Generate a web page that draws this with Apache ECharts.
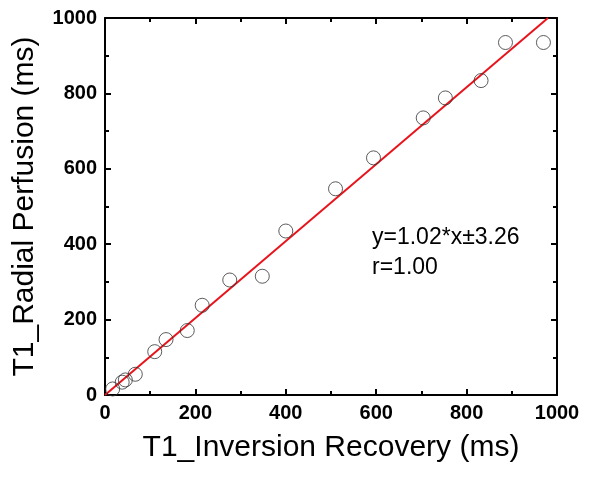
<!DOCTYPE html>
<html><head><meta charset="utf-8">
<script src="https://cdn.jsdelivr.net/npm/echarts@6/dist/echarts.min.js"></script>
<style>html,body{margin:0;padding:0;background:#fff}#c{width:600px;height:477px}</style>
</head><body><div id="c"></div>
<script>
var xTicks = [0, 200, 400, 600, 800, 1000];
var yTicks = [0, 200, 400, 600, 800, 1000];
var irValues = [17, 38, 45, 67, 110, 135, 182, 215, 276, 348, 400, 510, 594, 704, 753, 832, 886, 970];
var rpValues = [16, 34, 40, 55, 115, 147, 171, 238, 305, 315, 435, 547, 629, 735, 788, 834, 935, 935];
var fitX = [0, 980];
var fitY = [0, 1000];
var fitText = ["y=1.02*x\u00b13.26", "r=1.00"];

var pts = irValues.map(function(v, i){ return [v, rpValues[i]]; });
var line = fitX.map(function(v, i){ return [v, fitY[i]]; });
var FONT = "Liberation Sans, Arial, sans-serif";
function ax(pos, show, name){
  return {
    type: 'value', min: 0, max: 1000, interval: 200, position: pos,
    name: show ? name : '', nameLocation: 'middle',
    nameGap: (pos === 'bottom') ? 38 : 65,
    nameTextStyle: {fontFamily: FONT, fontSize: 30, color: '#000'},
    axisLine: {show: true, onZero: false, lineStyle: {color: '#000', width: 2}},
    axisTick: {show: true, inside: true, length: 6, lineStyle: {color: '#000', width: 2}},
    minorTick: {show: true, splitNumber: 2, length: 4, lineStyle: {color: '#000', width: 2}},
    axisLabel: {show: show, fontFamily: FONT, fontWeight: 'bold', fontSize: 20, color: '#000', margin: 8,
      formatter: function(v){ return String(v); }},
    splitLine: {show: false}
  };
}
var chart = echarts.init(document.getElementById('c'));
chart.setOption({
  animation: false,
  grid: {left: 105, right: 43, top: 18, bottom: 82},
  xAxis: [ax('bottom', true, 'T1_Inversion Recovery (ms)'), ax('top', false, '')],
  yAxis: [ax('left', true, 'T1_Radial Perfusion (ms)'), ax('right', false, '')],
  graphic: [
    {type: 'text', left: 372, top: 226, style: {text: fitText[0], font: '23px ' + FONT, fill: '#000'}},
    {type: 'text', left: 372, top: 256, style: {text: fitText[1], font: '23px ' + FONT, fill: '#000'}}
  ],
  series: [
    {type: 'line', data: line, showSymbol: false, symbol: 'none', lineStyle: {color: '#e8141c', width: 2}, z: 3},
    {type: 'scatter', data: pts, symbol: 'circle', symbolSize: 14,
     itemStyle: {color: 'rgba(255,255,255,0)', borderColor: '#333', borderWidth: 1}, z: 4}
  ]
});
</script></body></html>
